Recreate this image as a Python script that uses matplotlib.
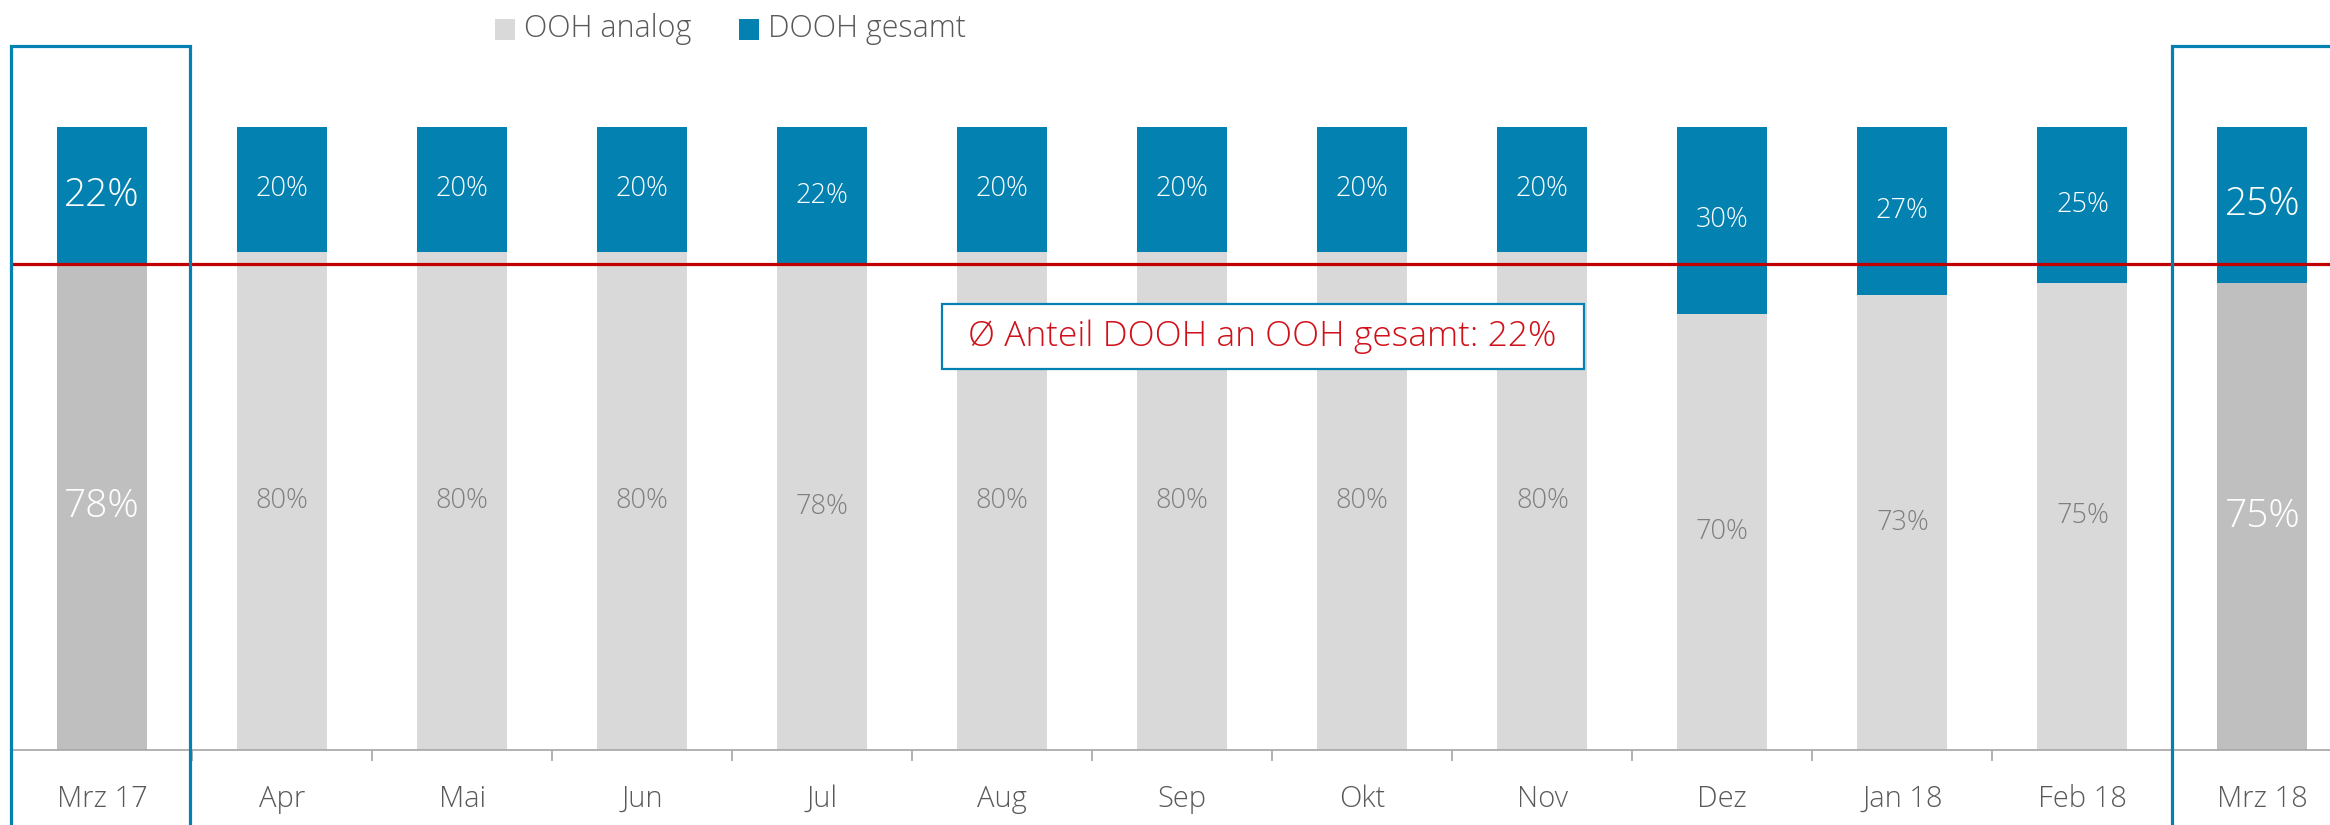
import matplotlib
matplotlib.use("Agg")
import matplotlib.pyplot as plt
from matplotlib.patches import Rectangle

categories = ["Mrz 17", "Apr", "Mai", "Jun", "Jul", "Aug", "Sep", "Okt", "Nov",
              "Dez", "Jan 18", "Feb 18", "Mrz 18"]
dooh = [22, 20, 20, 20, 22, 20, 20, 20, 20, 30, 27, 25, 25]
ooh = [78, 80, 80, 80, 78, 80, 80, 80, 80, 70, 73, 75, 75]
avg_dooh = 22
highlight = [0, 12]
series_names = ["OOH analog", "DOOH gesamt"]
avg_label = "Ø Anteil DOOH an OOH gesamt: 22%"

BLUE = "#0382B1"
GREY = "#D9D9D9"
DGREY = "#BFBFBF"
RED = "#C00000"
TXT = "#595959"

plt.rcParams['font.family'] = ['Open Sans', 'DejaVu Sans']

W, H = 2330, 825
fig = plt.figure(figsize=(W / 100, H / 100), dpi=100)
ax = fig.add_axes([12 / W, 1 - 750 / H, 1 - 12 / W, (750 - 127) / H])

x = list(range(len(categories)))
ooh_colors = [DGREY if i in highlight else GREY for i in x]
ax.bar(x, [v / 100 for v in ooh], width=0.5, color=ooh_colors, linewidth=0)
ax.bar(x, [v / 100 for v in dooh], bottom=[v / 100 for v in ooh], width=0.5,
       color=BLUE, linewidth=0)

for i in x:
    big = i in highlight
    ax.text(i, ooh[i] / 100 + dooh[i] / 200, f"{dooh[i]}%", ha="center", va="center",
            color="white", fontsize=28 if big else 19.5, fontweight="light")
    ax.text(i, ooh[i] / 200, f"{ooh[i]}%", ha="center", va="center",
            color="white" if big else "#7F7F7F", fontsize=28 if big else 19.5,
            fontweight="light")

ax.axhline(1 - avg_dooh / 100, color=RED, lw=2.3, zorder=3)

for i in highlight:
    ax.add_patch(Rectangle((i - 0.503, -0.3), 0.989, 1.43, fill=False,
                           edgecolor=BLUE, lw=2.3, clip_on=False, zorder=4))

# annotation frame and text
ax.add_patch(Rectangle((4.664, 0.6116), 3.566, 0.1044, facecolor="white",
                       edgecolor=BLUE, lw=1.6, zorder=5))
ax.text(6.447, 0.664, avg_label, ha="center", va="center", color="#D0101A",
        fontsize=25.5, fontweight="light", zorder=6)

ax.set_xlim(-0.5, (W - 102.5) / 180)
ax.set_ylim(0, 1)
ax.set_yticks([])
for s in ["left", "right", "top"]:
    ax.spines[s].set_visible(False)
ax.spines["bottom"].set_color("#A6A6A6")
ax.spines["bottom"].set_linewidth(1.2)
ax.set_xticks(x)
ax.set_xticklabels(categories, color=TXT, fontsize=21, fontweight="light")
ax.tick_params(axis="x", which="major", length=0, pad=25)
ax.set_xticks([i + 0.5 for i in range(len(categories) - 1)], minor=True)
ax.tick_params(axis="x", which="minor", length=8, color="#A6A6A6", width=1.2)

# legend
fig.patches.append(Rectangle((495 / W, 1 - 40 / H), 20 / W, 21 / H, transform=fig.transFigure,
                             facecolor=GREY, edgecolor="none"))
fig.text(524 / W, 1 - 29 / H, series_names[0], ha="left", va="center", color=TXT,
         fontsize=22, fontweight="light")
fig.patches.append(Rectangle((739 / W, 1 - 40 / H), 20 / W, 21 / H, transform=fig.transFigure,
                             facecolor=BLUE, edgecolor="none"))
fig.text(768 / W, 1 - 29 / H, series_names[1], ha="left", va="center", color=TXT,
         fontsize=22, fontweight="light")

fig.savefig("out.png", dpi=100)
